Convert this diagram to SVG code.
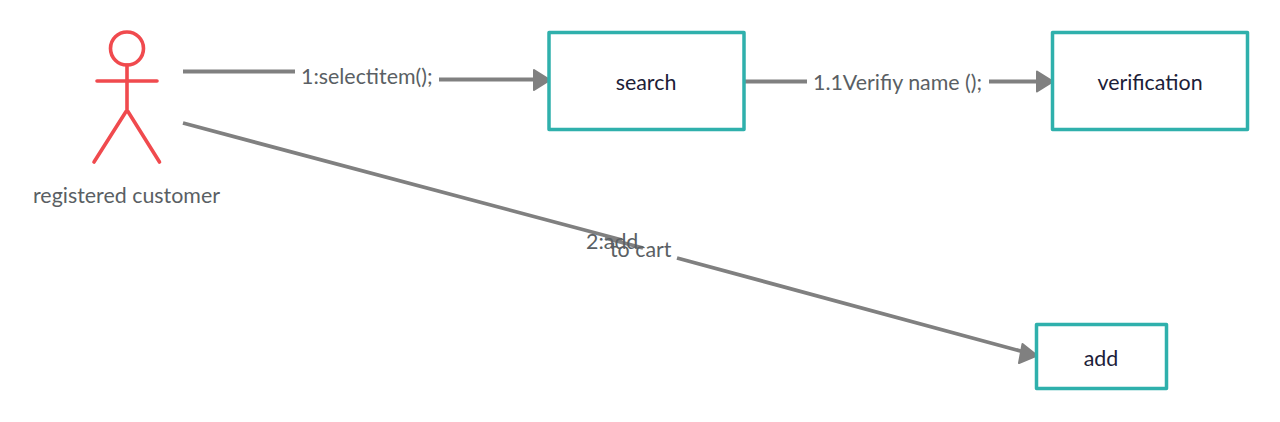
<svg xmlns="http://www.w3.org/2000/svg" width="1280" height="422" viewBox="0 0 1280 422">
<style>
.box{fill:#fff;stroke:#2fb0ac;stroke-width:3.500;stroke-linejoin:round}
.conn{fill:none;stroke:#808080;stroke-width:3.800}
.head{fill:#808080;stroke:#808080;stroke-width:2;stroke-linejoin:round}
.actor{fill:none;stroke:#f04a4e;stroke-width:3.600;stroke-linecap:round}
text{font-family:Lato,"Noto Sans",sans-serif;font-size:21.400px}
.lbl{fill:#5a5f64}
.node{fill:#1c2038;text-anchor:middle}
</style>
<rect width="1280" height="422" fill="#fff"/>
<g id="connectors">
<path class="conn" d="M183 71.500H295"/>
<path class="conn" d="M439 79.500H536"/>
<path class="head" d="M534 70L550 80L534 90Z"/>
<path class="conn" d="M745 81.500H807"/>
<path class="conn" d="M989 81.500H1040"/>
<path class="head" d="M1037 71.500L1053 81.500L1037 91.500Z"/>
<path class="conn" d="M183 123L622 240"/>
<path class="conn" d="M605 238L643 248"/>
<path class="conn" d="M677 258L1024 352"/>
<path class="head" d="M1022.500 344L1037 355.500L1019 363Z"/>
</g>
<g id="actor-registered-customer">
<circle class="actor" cx="127" cy="48.500" r="16.500"/>
<path class="actor" d="M127 65V110M97 81H157M127 110L94 162M127 110L159.500 162"/>
<text class="lbl" x="33" y="202.500">registered customer</text>
</g>
<g id="node-search">
<rect class="box" x="549" y="32.500" width="195" height="97"/>
<text class="node" x="646" y="89.500">search</text>
</g>
<g id="node-verification">
<rect class="box" x="1052.500" y="32.500" width="195" height="97"/>
<text class="node" x="1150" y="89.500">verification</text>
</g>
<g id="node-add">
<rect class="box" x="1036.500" y="324.500" width="130" height="64"/>
<text class="node" x="1101" y="365.500">add</text>
</g>
<g id="labels">
<text class="lbl" x="301" y="84">1:selectitem();</text>
<text class="lbl" x="813" y="89.500">1.1Verifiy name ();</text>
<text class="lbl" x="586" y="249">2:add</text>
<text class="lbl" x="610" y="257">to cart</text>
</g>
</svg>
